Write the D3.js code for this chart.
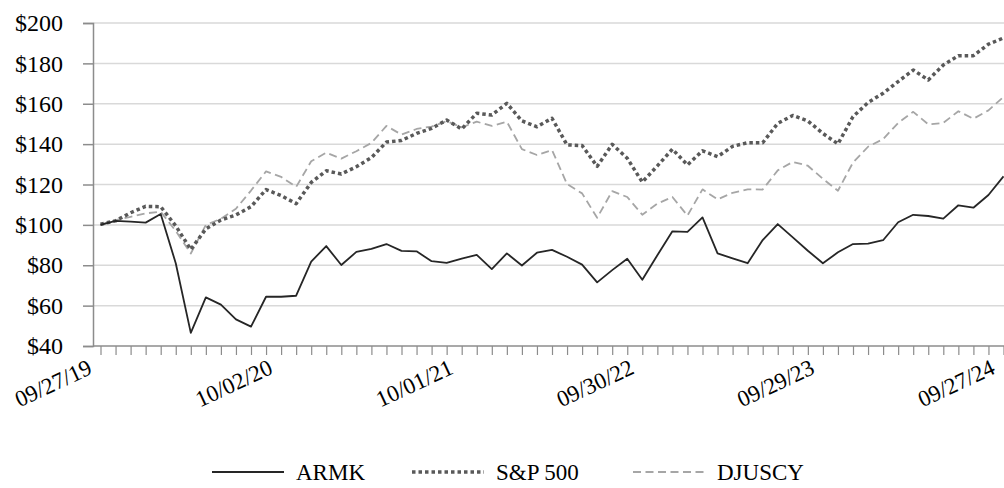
<!DOCTYPE html>
<html>
<head>
<meta charset="utf-8">
<script src="https://cdn.jsdelivr.net/npm/d3@7"></script>
<style>
  body { margin: 0; background: #fff; }
  svg text { font-family: "Liberation Serif", "Times New Roman", serif; fill: #000; }
</style>
</head>
<body>
<script>
// value of $100 invested, monthly points from 09/27/19 to 09/27/24
var tickLabels = ["09/27/19", "10/02/20", "10/01/21", "09/30/22", "09/29/23", "09/27/24"];
var yTicks = [40, 60, 80, 100, 120, 140, 160, 180, 200];

var armk = [100, 102, 101.6, 101.1, 105.4, 81, 46.5, 64.1, 60.5, 53.2, 49.6, 64.4, 64.4, 64.9, 81.8, 89.5,
  80.1, 86.6, 88.1, 90.5, 87.1, 86.9, 82, 81.2, 83.3, 85.1, 78.1, 85.9, 79.9, 86.2, 87.6, 84.2, 80.3, 71.5,
  77.6, 83.2, 72.8, 85, 96.8, 96.5, 103.7, 85.9, 83.4, 81, 92.5, 100.4, 93.8, 87.2, 81, 86.4, 90.5, 90.7,
  92.4, 101.3, 105, 104.4, 103.1, 109.7, 108.5, 114.8, 124];
var sp500 = [100.3, 102, 106, 109.2, 109, 99.5, 87.8, 98, 102.4, 104.9, 109, 117.5, 114.5, 110.5, 121, 126.8,
  125.2, 128.8, 133.3, 141, 141.8, 145.3, 147.8, 151.9, 147.5, 155.3, 154.4, 160.2, 151.5, 148.6, 152.8, 139.6,
  139.3, 129, 139.9, 133, 121.2, 129.2, 137.5, 129.7, 136.7, 133.8, 138.9, 140.7, 140.7, 150.3, 154.2, 151.5,
  145.3, 140.1, 153.6, 160.6, 165.2, 171, 176.7, 171.8, 179.2, 183.8, 183.8, 189.5, 192.6];
var djuscy = [100, 102.4, 104, 105.7, 106.5, 97, 85.8, 100, 103, 108, 117, 126.5, 123.8, 118.8, 131.5, 135.8,
  132.8, 136.5, 140.6, 149, 144.7, 147.5, 148.7, 151.4, 148.3, 151.1, 149, 151.1, 137.5, 134.6, 137.1, 120.2,
  115.6, 103.5, 116.7, 113.8, 105, 110.5, 113.8, 104.6, 117.6, 112.6, 115.9, 117.6, 117.5, 127, 131.2, 129.3,
  122.8, 116.9, 130.9, 138.7, 142.5, 150.5, 156, 149.8, 150.5, 156.3, 152.6, 156.7, 163.4];

var W = 1004, H = 488;
var svg = d3.select("body").append("svg").attr("width", W).attr("height", H);

var n = armk.length;
var x = d3.scaleLinear().domain([0, n - 1]).range([100.5, 1003.5]);
var y = d3.scaleLinear().domain([40, 200]).range([346, 23]);
var axisX = 93;

// gridlines
svg.append("g").selectAll("line").data(yTicks.slice(1)).enter().append("line")
  .attr("x1", axisX).attr("x2", W)
  .attr("y1", function(d) { return y(d); }).attr("y2", function(d) { return y(d); })
  .attr("stroke", "#d9d9d9").attr("stroke-width", 1.5);

// y axis
var gy = svg.append("g").attr("transform", "translate(" + axisX + ",0)")
  .call(d3.axisLeft(y).tickValues(yTicks).tickFormat(function(d) { return "$" + d; }).tickSize(10).tickPadding(20));
gy.select(".domain").attr("stroke", "#8c8c8c").attr("stroke-width", 1.5);
gy.selectAll(".tick line").attr("stroke", "#8c8c8c").attr("stroke-width", 1.5);
gy.selectAll("text").attr("font-size", 24).attr("font-family", "Liberation Serif").attr("fill", "#000");

// x axis
svg.append("line").attr("x1", axisX).attr("x2", W).attr("y1", y(40)).attr("y2", y(40))
  .attr("stroke", "#8c8c8c").attr("stroke-width", 1.5);
var gx = svg.append("g").attr("transform", "translate(0," + y(40) + ")")
  .call(d3.axisBottom(x).tickValues(d3.range(n)).tickFormat("").tickSize(9).tickSizeOuter(0));
gx.select(".domain").remove();
gx.selectAll(".tick line").attr("stroke", "#8c8c8c").attr("stroke-width", 1.2);

svg.append("g").selectAll("text").data(tickLabels).enter().append("text")
  .attr("transform", function(d, i) { return "translate(" + (x(i * 12) - 7) + ",373) rotate(-25)"; })
  .attr("text-anchor", "end")
  .attr("font-size", 23)
  .text(function(d) { return d; });

// lines
var line = d3.line().x(function(d, i) { return x(i); }).y(function(d) { return y(d); });

var series = [
  { name: "ARMK", values: armk, color: "#262626", width: 1.8, dash: null },
  { name: "S&P 500", values: sp500, color: "#595959", width: 3.5, dash: "3.5 3" },
  { name: "DJUSCY", values: djuscy, color: "#a6a6a6", width: 1.8, dash: "8 4.5" }
];

svg.append("g").selectAll("path").data(series.slice().reverse()).enter().append("path")
  .attr("d", function(d) { return line(d.values); })
  .attr("fill", "none")
  .attr("stroke", function(d) { return d.color; })
  .attr("stroke-width", function(d) { return d.width; })
  .attr("stroke-dasharray", function(d) { return d.dash; })
  .attr("stroke-linejoin", "round");

// legend
var legendX = [212, 412, 633];
var lg = svg.append("g").selectAll("g").data(series).enter().append("g")
  .attr("transform", function(d, i) { return "translate(" + legendX[i] + ",472)"; });
lg.append("line").attr("x1", 0).attr("x2", 72).attr("y1", 0).attr("y2", 0)
  .attr("stroke", function(d) { return d.color; })
  .attr("stroke-width", function(d) { return d.width; })
  .attr("stroke-dasharray", function(d) { return d.dash; });
lg.append("text").attr("x", 84).attr("y", 0).attr("dy", "0.35em")
  .attr("font-size", 23)
  .text(function(d) { return d.name; });
</script>
</body>
</html>
